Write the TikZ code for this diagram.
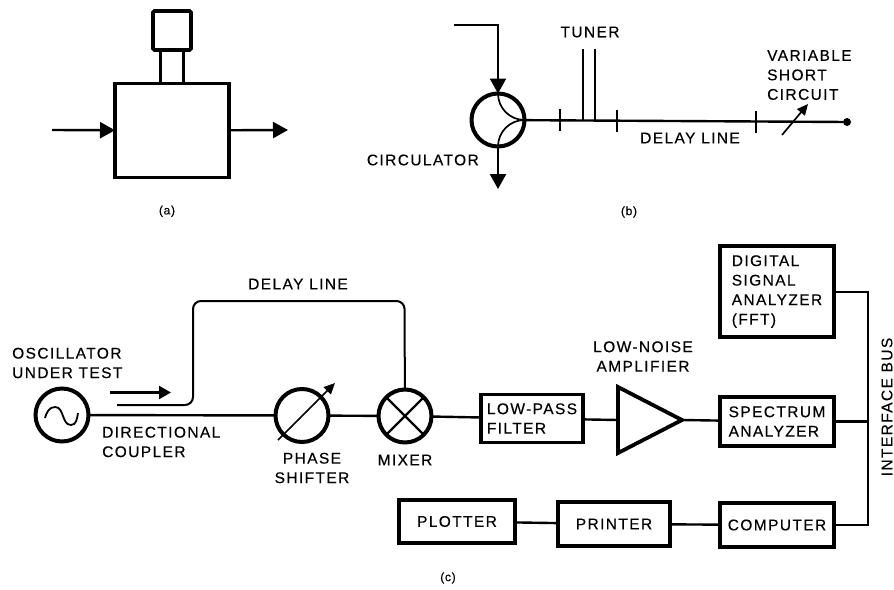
\documentclass[tikz,border=0pt]{standalone}
\usepackage{fontspec}
\setmainfont[LetterSpace=9,FakeBold=0.35]{Liberation Sans}
\newfontfamily\capfont[LetterSpace=6,FakeBold=0.2]{Liberation Sans}
\usepackage{tikz}
\usetikzlibrary{positioning,arrows.meta,shapes.geometric}
\tikzstyle{sig}=[line width=2.4,-{Triangle[length=15,width=16]}]
\tikzstyle{wire}=[line width=2.4]
\tikzstyle{thinwire}=[line width=1.7]
\tikzstyle{block}=[draw,line width=3.8,outer sep=0,inner sep=0,align=left,font=\fontsize{15.5}{19.5}\selectfont]
\tikzstyle{disc}=[draw,circle,line width=4,outer sep=0,inner sep=0,minimum size=53]
\tikzstyle{lab}=[inner sep=0,align=left,font=\fontsize{15.5}{19.5}\selectfont]
\tikzstyle{caplab}=[inner sep=0,font=\capfont\fontsize{12}{12}\selectfont]

\begin{document}
\begin{tikzpicture}[x=1pt,y=-1pt]
\useasboundingbox (0,0) rectangle (894,589);

\node[block, minimum width=114, minimum height=94] (oven) at (172,130.5) {};
\node[block, above = 0 of oven, minimum width=23, minimum height=33.5, line width=3] (neck) {};
\node[block, above = 0 of neck, minimum width=38, minimum height=39, rounded corners=1.5] (head) {};
\coordinate (ovenin) at (52,130);
\coordinate (ovenout) at (288,130);
\draw[sig] (ovenin) -- (oven);
\draw[sig] (oven) -- (ovenout);
\node[caplab, below = 28pt of oven, xshift=-5pt] (capa) {(a)};

\node[disc] (circ) at (498,120) {};
\node[circle, fill, inner sep=0, minimum size=8] (short) at (847,122) {};
\coordinate (circin) at (454,25);
\coordinate (circout) at (498,189);
\draw[sig] (circin) -| (circ);
\draw[sig] (circ) -- (circout);
\draw[wire] (circ) -- (short);
\draw[thinwire] (circ.north) to[out=-90,in=180] (circ.east);
\draw[thinwire] (circ.south) to[out=90,in=180] (circ.east);
\foreach \tx/\ty in {560/120,617/120.5,756/122}
    \draw[wire] (\tx,\ty-11) -- (\tx,\ty+11);
\foreach \tx in {583,595}
    \draw[thinwire] (\tx,49) -- (\tx,120);
\coordinate (varfrom) at (782,135);
\coordinate (varto) at (808,104);
\draw[line width=1.7,-{Triangle[length=11,width=10]}] (varfrom) -- (varto);
\node[lab] (tuner) at (590,32) {TUNER};
\node[lab, anchor=west] (varshort) at (767,75) {VARIABLE\\SHORT\\CIRCUIT};
\node[lab] (dlb) at (690,138) {DELAY LINE};
\node[lab, anchor=east] (circlab) at (479,160) {CIRCULATOR};
\node[caplab] (capb) at (629,212) {(b)};

\node[disc] (osc) at (62,415) {};
\node[disc] (shifter) at (302,415.5) {};
\node[disc] (mixer) at (405,416) {};
\node[block, minimum width=102, minimum height=48] (lpf) at (532,418.5) {LOW-PASS\\FILTER};
\node[draw, line width=3.8, isosceles triangle, isosceles triangle stretches, shape border rotate=0, minimum width=66, minimum height=64, inner sep=0, outer sep=0, anchor=lower side] (amp) at (618,420) {};
\node[block, minimum width=114, minimum height=49] (spec) at (777,421.5) {SPECTRUM\\ANALYZER};
\node[block, minimum width=114, minimum height=91] (fft) at (777,291.5) {DIGITAL\\SIGNAL\\ANALYZER\\(FFT)};
\node[block, minimum width=114, minimum height=44] (comp) at (777,525) {COMPUTER};
\node[block, minimum width=112, minimum height=44] (printer) at (614,524) {PRINTER};
\node[block, minimum width=116, minimum height=43] (plotter) at (457,521.5) {PLOTTER};

\draw[wire] (osc) -- (shifter);
\draw[wire] (shifter) -- (mixer);
\draw[wire] (mixer) -- (lpf);
\draw[wire] (lpf) -- (amp.lower side);
\draw[wire] (amp.apex) -- (spec);
\draw[wire] (plotter) -- (printer);
\draw[wire] (printer) -- (comp);
\coordinate (bustop) at (868,292);
\coordinate (busbot) at (868,525);
\draw[wire] (fft.east |- bustop) -- (bustop) -- (busbot) -- (comp.east |- busbot);
\draw[wire] (spec) -- (spec -| bustop);
\node[lab, rotate=90] (buslab) at (887,407) {INTERFACE BUS};

\draw[line width=1.8] (osc.center) ++(-17,3) to[out=75,in=180] ++(10,-11) to[out=0,in=180] ++(16,18) to[out=0,in=-100] ++(7,-12);
\draw[wire] (mixer.45) -- (mixer.225);
\draw[wire] (mixer.135) -- (mixer.315);
\coordinate (phasefrom) at (278,440);
\coordinate (phaseto) at (335,383);
\draw[line width=1.7,-{Triangle[length=11,width=10]}] (phasefrom) -- (phaseto);
\coordinate (dlfrom) at (117,405);
\coordinate (dlcorner) at (404.5,301);
\draw[line width=2, rounded corners=8] (dlfrom) -- ++(76,0) |- (dlcorner) -- (mixer);
\coordinate (flowfrom) at (110,392.5);
\coordinate (flowto) at (171,392.5);
\draw[sig, -{Triangle[length=12,width=13]}] (flowfrom) -- (flowto);

\node[lab, anchor=west] (osclab) at (12,363) {OSCILLATOR\\UNDER TEST};
\node[lab] (dlc) at (298,284) {DELAY LINE};
\node[lab, anchor=west] (dclab) at (102,442) {DIRECTIONAL\\COUPLER};
\node[lab, align=center] (shiftlab) at (312,468) {PHASE\\SHIFTER};
\node[lab] (mixlab) at (405,460) {MIXER};
\node[lab, align=center] (amplab) at (643,356.5) {LOW-NOISE\\AMPLIFIER};
\node[caplab] (capc) at (448,578) {(c)};

\end{tikzpicture}
\end{document}
